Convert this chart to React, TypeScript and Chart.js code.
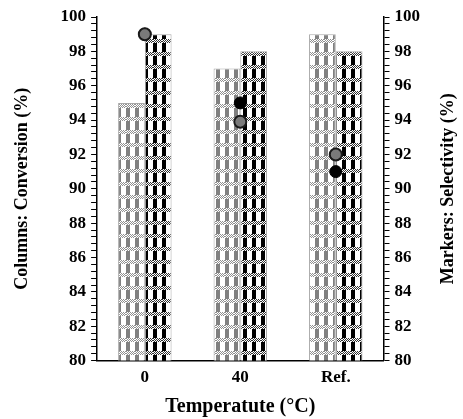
import React, { useEffect, useRef } from "react";
import { Chart, registerables } from "chart.js";

Chart.register(...registerables);

const categories = ["0", "40", "Ref."];
const conversionA = [95, 97, 99];
const conversionB = [99, 98, 98];
const selectivityA = [99, 93.9, 92];
const selectivityB = [99, 95, 91];

const FONT = "'Liberation Serif', 'Times New Roman', serif";

function makePattern(color: string, fine: string): CanvasPattern | string {
  const c = document.createElement("canvas");
  const w = 9, h = 13;
  c.width = w; c.height = h;
  const g = c.getContext("2d");
  if (!g) return color;
  g.fillStyle = "#ffffff";
  g.fillRect(0, 0, w, h);
  for (let y = 0; y < 4; y++) {
    for (let x = 0; x < w; x++) {
      if ((x + y) % 2 === 0) {
        g.fillStyle = fine;
        g.fillRect(x, y, 1, 1);
      }
    }
  }
  g.fillStyle = color;
  g.fillRect(0, 4, 4, 9);
  const p = g.createPattern(c, "repeat");
  return p || color;
}

const rightTitle = {
  id: "rightTitle",
  afterDraw(chart: any) {
    const { ctx, chartArea } = chart;
    ctx.save();
    ctx.font = `bold 18px ${FONT}`;
    ctx.fillStyle = "#000";
    ctx.textAlign = "center";
    ctx.textBaseline = "middle";
    ctx.translate(chart.width - 15, (chartArea.top + chartArea.bottom) / 2);
    ctx.rotate(-Math.PI / 2);
    ctx.fillText("Markers: Selectivity (%)", 0, 0);
    ctx.restore();
  },
};

export default function App() {
  const ref = useRef<HTMLCanvasElement>(null);
  useEffect(() => {
    document.body.style.margin = "0";
    const canvas = ref.current;
    if (!canvas) return;
    const tickCb = (v: any) => {
      const n = Number(v);
      return Math.abs(n / 2 - Math.round(n / 2)) < 1e-6 ? String(Math.round(n)) : "";
    };
    const yCommon = {
      min: 80,
      max: 100,
      ticks: {
        stepSize: 0.4,
        autoSkip: false,
        callback: tickCb,
        color: "#000",
        font: { family: FONT, size: 17, weight: "bold" as const },
        padding: 5,
      },
      grid: {
        drawOnChartArea: false,
        tickLength: 6,
        color: "#000",
        tickColor: "#000",
        tickWidth: 1,
      },
      border: { color: "#000", width: 1.5 },
    };
    const chart = new Chart(canvas, {
      type: "bar",
      data: {
        labels: categories,
        datasets: [
          {
            type: "line" as const,
            label: "Selectivity A",
            data: selectivityA,
            showLine: false,
            pointRadius: 6,
            pointBackgroundColor: "#7a7a7a",
            pointBorderColor: "#1a1a1a",
            pointBorderWidth: 2,
            yAxisID: "y2",
            order: 1,
          },
          {
            type: "line" as const,
            label: "Selectivity B",
            data: selectivityB,
            showLine: false,
            pointRadius: 6,
            pointBackgroundColor: "#000",
            pointBorderColor: "#000",
            pointBorderWidth: 1,
            yAxisID: "y2",
            order: 2,
          },
          {
            label: "Conversion A",
            data: conversionA,
            backgroundColor: makePattern("#808080", "#909090"),
            borderColor: "#a8a8a8",
            borderWidth: 1,
            barPercentage: 1,
            categoryPercentage: 0.56,
            yAxisID: "y",
            order: 3,
          },
          {
            label: "Conversion B",
            data: conversionB,
            backgroundColor: makePattern("#000000", "#333333"),
            borderColor: "#a8a8a8",
            borderWidth: 1,
            barPercentage: 1,
            categoryPercentage: 0.56,
            yAxisID: "y",
            order: 3,
          },
        ],
      },
      options: {
        animation: false,
        responsive: false,
        maintainAspectRatio: false,
        layout: { padding: { top: 17, right: 38, left: 12, bottom: 0 } },
        plugins: { legend: { display: false }, tooltip: { enabled: false } },
        scales: {
          x: {
            ticks: {
              color: "#000",
              font: { family: FONT, size: 17, weight: "bold" },
              padding: 7,
            },
            grid: { drawOnChartArea: false, drawTicks: false },
            border: { color: "#000", width: 1.5 },
            title: {
              display: true,
              text: "Temperatute (°C)",
              color: "#000",
              font: { family: FONT, size: 20, weight: "bold" },
              padding: { top: 0, bottom: 0 },
            },
          },
          y: {
            ...yCommon,
            position: "left",
            title: {
              display: true,
              text: "Columns: Conversion (%)",
              color: "#000",
              font: { family: FONT, size: 18, weight: "bold" },
              padding: { top: 0, bottom: 22 },
            },
          },
          y2: {
            ...yCommon,
            position: "right",
          },
        },
      },
      plugins: [rightTitle],
    });
    return () => chart.destroy();
  }, []);
  return (
    <div style={{ width: 463, height: 419 }}>
      <canvas ref={ref} width={463} height={419} style={{ display: "block" }} />
    </div>
  );
}
